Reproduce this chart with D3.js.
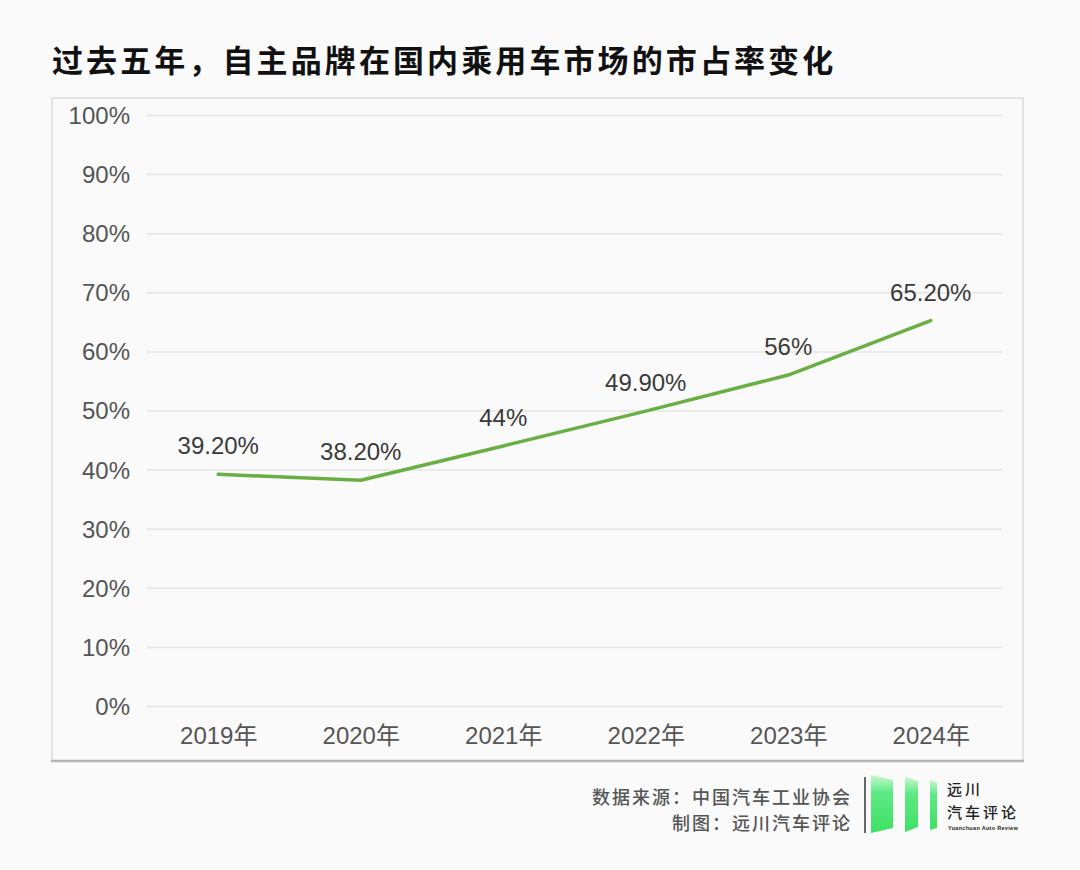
<!DOCTYPE html>
<html>
<head>
<meta charset="utf-8">
<script src="https://cdn.jsdelivr.net/npm/d3@7"></script>
<style>
  html, body { margin: 0; padding: 0; background: #fafafa; }
  svg { display: block; }
</style>
</head>
<body>
<script>
const title = "过去五年，自主品牌在国内乘用车市场的市占率变化";
const years = ["2019年", "2020年", "2021年", "2022年", "2023年", "2024年"];
const shares = [39.2, 38.2, 44, 49.9, 56, 65.2];
const shareLabels = ["39.20%", "38.20%", "44%", "49.90%", "56%", "65.20%"];
const yTicks = [0, 10, 20, 30, 40, 50, 60, 70, 80, 90, 100];
const sourceLines = ["数据来源：中国汽车工业协会", "制图：远川汽车评论"];
const logoLines = ["远川", "汽车评论", "Yuanchuan Auto Review"];

const W = 1080, H = 870;
const numFont = "'Liberation Sans', Arial, 'Noto Sans CJK SC', sans-serif";
const cjkFont = "'Noto Sans CJK SC', 'Liberation Sans', sans-serif";

const svg = d3.select("body").append("svg").attr("width", W).attr("height", H);
svg.append("rect").attr("width", W).attr("height", H).attr("fill", "#fafafa");

// Title
svg.append("text")
  .attr("x", 52).attr("y", 72)
  .attr("font-family", cjkFont).attr("font-weight", 700)
  .attr("font-size", 31).attr("letter-spacing", 3.1)
  .attr("fill", "#111")
  .text(title);

// Chart box
const box = {l: 52, t: 98, r: 1023, b: 761};
svg.append("path")
  .attr("d", `M${box.l},${box.b} V${box.t} H${box.r} V${box.b}`)
  .attr("fill", "none").attr("stroke", "#dcdcdc").attr("stroke-width", 1.5);
svg.append("line")
  .attr("x1", box.l - 1).attr("x2", box.r + 1).attr("y1", box.b).attr("y2", box.b)
  .attr("stroke", "#b5b5b5").attr("stroke-width", 2.5);

// Scales
const x = d3.scalePoint().domain(years).range([147, 1002]).padding(0.5);
const y = d3.scaleLinear().domain([0, 100]).range([706, 115]);

// Gridlines + y labels via axis
const yAxis = d3.axisLeft(y)
  .tickValues(yTicks)
  .tickSize(-(1002 - 147))
  .tickPadding(17)
  .tickFormat(d => d + "%");
const gy = svg.append("g").attr("transform", "translate(147,0)").call(yAxis);
gy.select(".domain").remove();
gy.selectAll(".tick line").attr("stroke", "#e4e4e4").attr("stroke-width", 1.5);
gy.selectAll(".tick text")
  .attr("font-family", numFont).attr("font-size", 24).attr("fill", "#555")
  .attr("dy", "0.35em");

// x labels via axis
const xAxis = d3.axisBottom(x).tickSize(0).tickPadding(0);
const gx = svg.append("g").attr("transform", "translate(0,724)").call(xAxis);
gx.select(".domain").remove();
gx.selectAll(".tick text")
  .attr("font-family", numFont).attr("font-size", 24).attr("fill", "#555")
  .attr("dy", "0.85em");

// Line
const data = years.map((yr, i) => ({yr, v: shares[i], lab: shareLabels[i]}));
svg.append("path")
  .datum(data)
  .attr("d", d3.line().x(d => x(d.yr)).y(d => y(d.v)))
  .attr("fill", "none").attr("stroke", "#6aaf44").attr("stroke-width", 3.5)
  .attr("stroke-linecap", "round").attr("stroke-linejoin", "round");

// Data labels
svg.append("g").selectAll("text").data(data).join("text")
  .attr("x", d => x(d.yr)).attr("y", d => y(d.v) - 20)
  .attr("text-anchor", "middle")
  .attr("font-family", numFont).attr("font-size", 24).attr("fill", "#3a3a3a")
  .text(d => d.lab);

// Footer source
svg.append("g").selectAll("text").data(sourceLines).join("text")
  .attr("x", 852).attr("y", (d, i) => 804 + i * 26)
  .attr("text-anchor", "end")
  .attr("font-family", cjkFont).attr("font-weight", 500)
  .attr("font-size", 18).attr("letter-spacing", 2)
  .attr("fill", "#555")
  .text(d => d);

// Divider
svg.append("line").attr("x1", 865).attr("x2", 865).attr("y1", 777).attr("y2", 833)
  .attr("stroke", "#666").attr("stroke-width", 2);

// Logo bars
const defs = svg.append("defs");
const grad = defs.append("linearGradient").attr("id", "lg").attr("x1", 0).attr("y1", 0).attr("x2", 0).attr("y2", 1);
grad.append("stop").attr("offset", "0%").attr("stop-color", "#c9f7d0");
grad.append("stop").attr("offset", "30%").attr("stop-color", "#5ee983");
grad.append("stop").attr("offset", "100%").attr("stop-color", "#3fe064");
const bars = [
  [[871, 775], [893, 780], [893, 828], [871, 833]],
  [[905, 777], [918, 781], [918, 827], [905, 832]],
  [[930, 780], [937, 782], [937, 828], [930, 830]]
];
svg.append("g").selectAll("path").data(bars).join("path")
  .attr("d", d => "M" + d.map(p => p.join(",")).join("L") + "Z")
  .attr("fill", "url(#lg)");

// Logo text
svg.append("text").attr("x", 947).attr("y", 795)
  .attr("font-family", cjkFont).attr("font-weight", 500).attr("font-size", 15)
  .attr("letter-spacing", 3).attr("fill", "#222").text(logoLines[0]);
svg.append("text").attr("x", 947).attr("y", 818)
  .attr("font-family", cjkFont).attr("font-weight", 500).attr("font-size", 15)
  .attr("letter-spacing", 3).attr("fill", "#222").text(logoLines[1]);
svg.append("text").attr("x", 948).attr("y", 830)
  .attr("font-family", numFont).attr("font-weight", 700).attr("font-size", 5.5)
  .attr("letter-spacing", 0.3).attr("fill", "#222").text(logoLines[2]);
</script>
</body>
</html>
